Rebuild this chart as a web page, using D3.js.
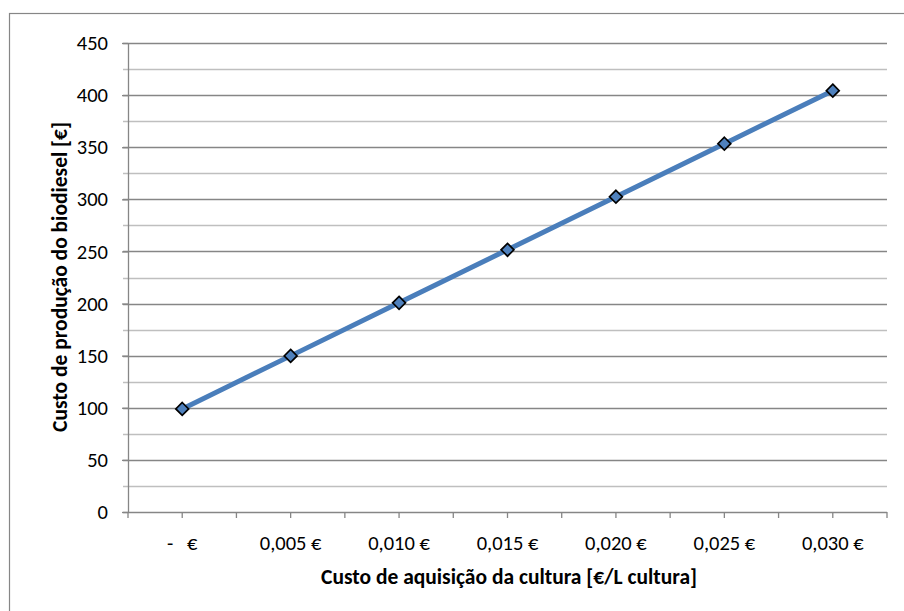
<!DOCTYPE html>
<html>
<head>
<meta charset="utf-8">
<script src="https://cdn.jsdelivr.net/npm/d3@7"></script>
<style>
  html, body { margin: 0; padding: 0; background: #ffffff; }
  svg { display: block; }
  text { font-family: Carlito, Calibri, Lato, "Open Sans", sans-serif; fill: #000; }
</style>
</head>
<body>
<svg id="chart" width="904" height="611"></svg>
<script>
// Acquisition cost of the crop (€/L) and resulting biodiesel production cost (€)
const categories = ["-   €", "0,005 €", "0,010 €", "0,015 €", "0,020 €", "0,025 €", "0,030 €"];
const productionCost = [98.9, 149.8, 200.7, 251.6, 302.5, 353.4, 404.3];
const yTicks = [0, 50, 100, 150, 200, 250, 300, 350, 400, 450];
const yMinorTicks = [25, 75, 125, 175, 225, 275, 325, 375, 425];
const xTitle = "Custo de aquisição da cultura [€/L cultura]";
const yTitle = "Custo de produção do biodiesel [€]";

const svg = d3.select("#chart");
const W = 904, H = 611;
const plot = { left: 128, right: 887, top: 43, bottom: 512 };

// outer chart frame
svg.append("rect")
  .attr("x", 9.5).attr("y", 13.5)
  .attr("width", W + 20).attr("height", H + 20)
  .attr("fill", "none").attr("stroke", "#868686").attr("stroke-width", 1.2);

const x = d3.scaleBand().domain(categories).range([plot.left, plot.right]);
const y = d3.scaleLinear().domain([0, 450]).range([plot.bottom, plot.top]);

const g = svg.append("g");

// minor gridlines
g.selectAll("line.minor").data(yMinorTicks).enter().append("line")
  .attr("x1", plot.left - 5).attr("x2", plot.right)
  .attr("y1", d => Math.round(y(d)) + 0.5).attr("y2", d => Math.round(y(d)) + 0.5)
  .attr("stroke", "#bfbfbf").attr("stroke-width", 1.3);

// major gridlines
g.selectAll("line.major").data(yTicks.filter(d => d > 0)).enter().append("line")
  .attr("x1", plot.left - 5).attr("x2", plot.right)
  .attr("y1", d => Math.round(y(d)) + 0.5).attr("y2", d => Math.round(y(d)) + 0.5)
  .attr("stroke", "#868686").attr("stroke-width", 1.3);

// y axis
const yAxis = d3.axisLeft(y).tickValues(yTicks).tickSize(6).tickPadding(14).tickSizeOuter(0);
const ya = svg.append("g").attr("transform", `translate(${plot.left},0)`).call(yAxis);
ya.attr("font-size", null).attr("font-family", null);
ya.select(".domain").attr("stroke", "#868686").attr("stroke-width", 1.3);
ya.selectAll(".tick line").attr("stroke", "#868686").attr("stroke-width", 1.3);
ya.selectAll(".tick text").attr("font-size", 20.5).attr("fill", "#000");

// x axis: ticks at category boundaries and centres
const xTickPos = [];
categories.forEach(c => { xTickPos.push(x(c)); xTickPos.push(x(c) + x.bandwidth() / 2); });
xTickPos.push(plot.right);
const xa = svg.append("g");
xa.append("line")
  .attr("x1", plot.left - 5).attr("x2", plot.right)
  .attr("y1", plot.bottom + 0.5).attr("y2", plot.bottom + 0.5)
  .attr("stroke", "#868686").attr("stroke-width", 1.3);
xa.selectAll("line.t").data(xTickPos).enter().append("line")
  .attr("x1", d => d).attr("x2", d => d)
  .attr("y1", plot.bottom).attr("y2", plot.bottom + 6)
  .attr("stroke", "#868686").attr("stroke-width", 1.3);
xa.selectAll("text.cat").data(categories).enter().append("text")
  .attr("x", d => x(d) + x.bandwidth() / 2)
  .attr("y", 550)
  .attr("text-anchor", "middle")
  .attr("font-size", 20.5)
  .style("white-space", "pre")
  .attr("xml:space", "preserve")
  .text(d => d);

// line series
const line = d3.line()
  .x((d, i) => x(categories[i]) + x.bandwidth() / 2)
  .y(d => y(d));
svg.append("path").datum(productionCost)
  .attr("d", line)
  .attr("fill", "none")
  .attr("stroke", "#4a7ebb")
  .attr("stroke-width", 5)
  .attr("stroke-linejoin", "round");

// diamond markers
const diamond = d3.symbol().type(d3.symbolDiamond2).size(105);
svg.selectAll("path.marker").data(productionCost).enter().append("path")
  .attr("transform", (d, i) => `translate(${x(categories[i]) + x.bandwidth() / 2},${y(d)})`)
  .attr("d", diamond)
  .attr("fill", "#4f81bd")
  .attr("stroke", "#000")
  .attr("stroke-width", 1.7);

// axis titles
svg.append("text")
  .attr("x", 509)
  .attr("y", 584)
  .attr("text-anchor", "middle")
  .attr("font-size", 21.5)
  .attr("font-weight", "bold")
  .text(xTitle);

svg.append("text")
  .attr("transform", `translate(67,277) rotate(-90)`)
  .attr("text-anchor", "middle")
  .attr("font-size", 21.5)
  .attr("font-weight", "bold")
  .text(yTitle);
</script>
</body>
</html>
